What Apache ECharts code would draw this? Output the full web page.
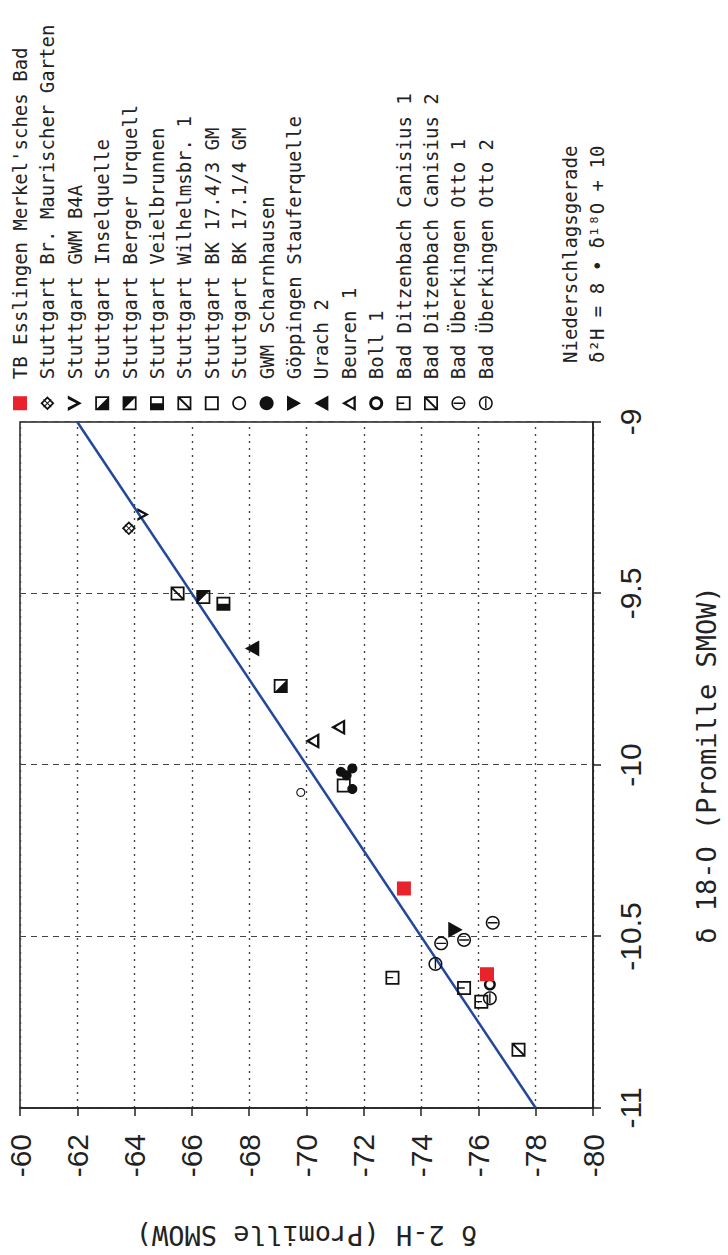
<!DOCTYPE html>
<html>
<head>
<meta charset="utf-8">
<script src="https://cdn.jsdelivr.net/npm/echarts/dist/echarts.min.js"></script>
<style>
html, body { margin: 0; padding: 0; background: #fff; overflow: hidden; width: 728px; height: 1255px; }
/* the figure is printed sideways: draw it landscape, then turn it a quarter turn */
#chart { position: absolute; left: 0; top: 0; width: 1255px; height: 728px; transform-origin: 0 0; transform: translate(0, 1255px) rotate(-90deg); }
</style>
</head>
<body>
<div id="chart"></div>
<script>
// δ18O / δ2H pairs (Promille SMOW)
const esslingen = [[-10.36, -73.4], [-10.61, -76.3]];
const maurischerGarten = [[-9.31, -63.8]];
const gwmB4A = [[-9.27, -64.3]];
const inselquelle = [[-9.77, -69.1]];
const bergerUrquell = [[-9.51, -66.4]];
const veielbrunnen = [[-9.53, -67.1]];
const wilhelmsbr = [[-9.50, -65.5]];
const bk1743 = [[-10.06, -71.3]];
const bk1714 = [[-10.08, -69.8]];
const scharnhausen = [[-10.02, -71.2], [-10.01, -71.6], [-10.03, -71.4], [-10.07, -71.6]];
const goeppingen = [[-10.48, -75.2]];
const urach2 = [[-9.66, -68.1]];
const beuren1 = [[-9.89, -71.1], [-9.93, -70.2]];
const boll1 = [[-10.64, -76.4]];
const canisius1 = [[-10.62, -73.0], [-10.65, -75.5], [-10.69, -76.1]];
const canisius2 = [[-10.83, -77.4]];
const otto1 = [[-10.46, -76.5], [-10.52, -74.7], [-10.51, -75.5]];
const otto2 = [[-10.58, -74.5], [-10.68, -76.4]];

// Niederschlagsgerade end points
const gmwlX = [-11, -9];
const gmwlY = [-78, -62];

const xTicks = { min: -11, max: -9, step: 0.5 };
const yTicks = { min: -80, max: -60, step: 2 };

const mono = '"DejaVu Sans Mono", "Liberation Mono", monospace';
const tickFont = '"Liberation Sans Narrow", "Liberation Sans", Arial, sans-serif';
const ink = '#222';

// --- plotter symbols (nonzero fill: outer ring clockwise, holes counter-clockwise)
const sqRing = 'M0 0L20 0L20 20L0 20Z M2.5 2.5L2.5 17.5L17.5 17.5L17.5 2.5Z';
function poly(cx, cy, r, rev) {
  const n = 36;
  let s = '';
  for (let i = 0; i < n; i++) {
    const a = (rev ? -1 : 1) * i * 2 * Math.PI / n;
    s += (i ? 'L' : 'M') + (cx + r * Math.cos(a)).toFixed(2) + ' ' + (cy + r * Math.sin(a)).toFixed(2);
  }
  return s + 'Z ';
}
function ring(r2) { return poly(10, 10, 10, false) + poly(10, 10, r2, true); }

const sym = {
  sqFilled: 'path://M0 0L20 0L20 20L0 20Z',
  diamondX: 'path://M10 0L20 10L10 20L0 10Z M10 3.5L3.5 10L10 16.5L16.5 10Z M4 5L5 4L16 15L15 16Z M15 4L16 5L5 16L4 15Z',
  chevron: 'path://M0 2L4.5 2L10 13L15.5 2L20 2L10 20Z',
  sqLowerLeft: 'path://' + sqRing + ' M2.5 2.5L17.5 17.5L2.5 17.5Z',
  sqUpperRight: 'path://' + sqRing + ' M2.5 2.5L17.5 2.5L17.5 17.5Z',
  sqLeftHalf: 'path://' + sqRing + ' M2.5 2.5L10 2.5L10 17.5L2.5 17.5Z',
  sqDiag: 'path://' + sqRing + ' M16 2L18 2L18 4L4 18L2 18L2 16Z',
  sqOpen: 'path://' + sqRing,
  sqStub: 'path://' + sqRing + ' M9 2L11 2L11 11L9 11Z',
  ringThin: 'path://' + ring(7.6),
  ringBold: 'path://' + ring(5.8),
  ringVBar: 'path://' + ring(7.8) + 'M9 3L11 3L11 17L9 17Z',
  ringHBar: 'path://' + ring(7.8) + 'M3 9L17 9L17 11L3 11Z',
  dot: 'path://' + poly(10, 10, 10, false),
  triDown: 'path://M0 2L20 2L10 20Z',
  triUp: 'path://M10 0L20 18L0 18Z',
  triOpen: 'path://M10 0L20 18L0 18Z M10 6L4.5 15L15.5 15Z'
};

const groups = [
  { name: 'TB Esslingen Merkel\'sches Bad', data: esslingen, symbol: sym.sqFilled, size: 14, color: '#e8232b', z: 4 },
  { name: 'Stuttgart Br. Maurischer Garten', data: maurischerGarten, symbol: sym.diamondX, size: 14 },
  { name: 'Stuttgart GWM B4A', data: gwmB4A, symbol: sym.chevron, size: 13 },
  { name: 'Stuttgart Inselquelle', data: inselquelle, symbol: sym.sqLowerLeft, size: 14 },
  { name: 'Stuttgart Berger Urquell', data: bergerUrquell, symbol: sym.sqUpperRight, size: 14 },
  { name: 'Stuttgart Veielbrunnen', data: veielbrunnen, symbol: sym.sqLeftHalf, size: 14 },
  { name: 'Stuttgart Wilhelmsbr. 1', data: wilhelmsbr, symbol: sym.sqDiag, size: 14 },
  { name: 'Stuttgart BK 17.4/3 GM', data: bk1743, symbol: sym.sqOpen, size: 14 },
  { name: 'Stuttgart BK 17.1/4 GM', data: bk1714, symbol: sym.ringThin, size: 9 },
  { name: 'GWM Scharnhausen', data: scharnhausen, symbol: sym.dot, size: 10 },
  { name: 'Göppingen Stauferquelle', data: goeppingen, symbol: sym.triDown, size: 16 },
  { name: 'Urach 2', data: urach2, symbol: sym.triUp, size: 16 },
  { name: 'Beuren 1', data: beuren1, symbol: sym.triOpen, size: 16 },
  { name: 'Boll 1', data: boll1, symbol: sym.ringBold, size: 12 },
  { name: 'Bad Ditzenbach Canisius 1', data: canisius1, symbol: sym.sqStub, size: 14 },
  { name: 'Bad Ditzenbach Canisius 2', data: canisius2, symbol: sym.sqDiag, size: 14 },
  { name: 'Bad Überkingen Otto 1', data: otto1, symbol: sym.ringVBar, size: 14 },
  { name: 'Bad Überkingen Otto 2', data: otto2, symbol: sym.ringHBar, size: 14 }
];

const series = groups.map(g => ({
  name: g.name,
  type: 'scatter',
  data: g.data,
  symbol: g.symbol,
  symbolSize: g.size,
  symbolKeepAspect: true,
  z: g.z || 3,
  itemStyle: { color: g.color || '#111', opacity: 1 },
  emphasis: { disabled: true }
}));

series.unshift({
  name: 'Niederschlagsgerade',
  type: 'line',
  data: gmwlX.map((x, i) => [x, gmwlY[i]]),
  symbol: 'none',
  z: 2,
  silent: true,
  lineStyle: { color: '#23479b', width: 2.5 }
});

const chart = echarts.init(document.getElementById('chart'), null, { renderer: 'svg' });
chart.setOption({
  animation: false,
  backgroundColor: '#fff',
  grid: {
    left: 147, right: 422, top: 20, bottom: 135,
    show: true, borderColor: ink, borderWidth: 1.5,
    outerBoundsMode: 'none'
  },
  legend: {
    data: groups.map(g => g.name),
    orient: 'vertical',
    left: 844,
    top: 10,
    padding: 0,
    itemWidth: 38,
    itemHeight: 14,
    itemGap: 7.4,
    selectedMode: false,
    textStyle: { fontFamily: mono, fontSize: 19, lineHeight: 20, color: ink }
  },
  xAxis: {
    type: 'value',
    min: xTicks.min, max: xTicks.max, interval: xTicks.step,
    name: 'δ 18-O (Promille SMOW)',
    nameLocation: 'middle',
    nameGap: 100,
    nameTextStyle: { fontFamily: mono, fontSize: 27, color: ink },
    axisLine: { show: true, onZero: false, lineStyle: { color: ink, width: 1.5 } },
    axisTick: { show: true, length: 8, lineStyle: { color: ink, width: 1.5 } },
    axisLabel: { margin: 22, fontFamily: tickFont, fontSize: 30, color: ink, showMinLabel: true, showMaxLabel: true },
    splitLine: { show: true, lineStyle: { type: [6, 5], color: '#444', width: 1.2 } }
  },
  yAxis: {
    type: 'value',
    min: yTicks.min, max: yTicks.max, interval: yTicks.step,
    name: 'δ 2-H (Promille SMOW)',
    nameLocation: 'middle',
    nameGap: 114,
    nameTextStyle: { fontFamily: mono, fontSize: 27, color: ink },
    axisLine: { show: true, onZero: false, lineStyle: { color: ink, width: 1.5 } },
    axisTick: { show: true, length: 8, lineStyle: { color: ink, width: 1.5 } },
    axisLabel: { margin: 26, fontFamily: tickFont, fontSize: 30, color: ink, showMinLabel: true, showMaxLabel: true },
    splitLine: { show: true, lineStyle: { type: [2, 5], color: '#444', width: 1.4 } }
  },
  graphic: [{
    type: 'text',
    left: 892,
    top: 556,
    style: {
      text: 'Niederschlagsgerade\nδ²H = 8 • δ¹⁸O + 10',
      font: '19px ' + mono,
      fill: ink,
      lineHeight: 27
    }
  }],
  series: series
});
</script>
</body>
</html>
